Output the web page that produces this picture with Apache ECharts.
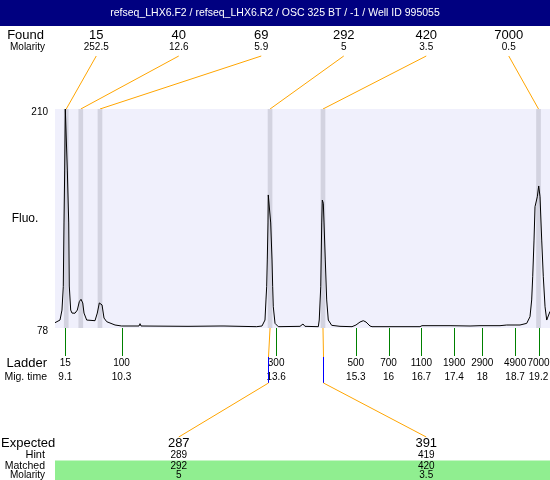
<!DOCTYPE html>
<html><head><meta charset="utf-8">
<script src="https://cdn.jsdelivr.net/npm/echarts@6/dist/echarts.min.js"></script>
<style>html,body{margin:0;padding:0;background:#fff}#c{width:550px;height:480px}</style>
</head><body><div id="c"></div>
<script>
const titleText = 'refseq_LHX6.F2 / refseq_LHX6.R2 / OSC 325 BT / -1 / Well ID 995055';
const foundSizes = ['15', '40', '69', '292', '420', '7000'];
const foundMolarity = ['252.5', '12.6', '5.9', '5', '3.5', '0.5'];
const foundTimes = [9.12, 9.43, 9.84, 13.47, 14.60, 19.20];
const ladderSizes = ['15', '100', '300', '500', '700', '1100', '1900', '2900', '4900', '7000'];
const ladderTimes = [9.1, 10.3, 13.6, 15.3, 16, 16.7, 17.4, 18, 18.7, 19.2];
const expectedSizes = ['287', '391'];
const hintSizes = ['289', '419'];
const matchedSizes = ['292', '420'];
const matchedMolarity = ['5', '3.5'];
const matchedFoundIndex = [3, 4];
const matchedMarkTimes = [13.42, 14.60];
const yLabels = [78, 210];
const traceTimes = [8.880, 8.987, 9.029, 9.057, 9.072, 9.087, 9.100, 9.130, 9.143, 9.173, 9.185, 9.215, 9.243, 9.307, 9.356, 9.399, 9.435, 9.472, 9.499, 9.556, 9.734, 9.783, 9.826, 9.856, 9.884, 9.926, 9.984, 10.161, 10.304, 10.673, 10.695, 10.716, 11.719, 12.402, 12.444, 12.487, 13.185, 13.298, 13.362, 13.383, 13.398, 13.411, 13.426, 13.432, 13.462, 13.484, 13.512, 13.526, 13.539, 13.576, 13.646, 14.109, 14.173, 14.215, 14.500, 14.520, 14.552, 14.573, 14.585, 14.607, 14.622, 14.649, 14.679, 14.713, 14.786, 14.963, 15.219, 15.304, 15.390, 15.460, 15.518, 15.603, 15.646, 16.670, 16.713, 17.311, 17.738, 17.951, 18.378, 18.521, 18.805, 18.948, 19.018, 19.054, 19.076, 19.104, 19.125, 19.174, 19.204, 19.232, 19.268, 19.302, 19.339, 19.375, 19.409, 19.445];
const traceFluo = [81.2, 82.8, 88.8, 102.9, 141.3, 173.2, 210, 210, 173.2, 141.3, 103.3, 88.8, 87.0, 86.9, 88.8, 93.9, 95.3, 93.1, 87.0, 82.8, 82.4, 87.0, 93.1, 93.9, 91.9, 84.0, 81.8, 79.8, 79.2, 79.2, 80.6, 79.2, 79.0, 79.2, 79.6, 79.2, 78.8, 79.2, 82.8, 94.9, 102.9, 119.0, 141.3, 158.2, 157.1, 141.3, 119.0, 102.9, 90.8, 80.8, 78.8, 79.0, 80.4, 79.0, 78.8, 82.8, 102.9, 141.3, 155.1, 153.2, 141.3, 119.0, 94.9, 82.8, 79.6, 79.0, 78.8, 79.8, 81.6, 82.4, 81.6, 79.2, 78.8, 78.8, 79.4, 79.4, 79.2, 79.4, 79.4, 79.8, 79.8, 80.8, 84.8, 94.9, 108.9, 131.0, 151.1, 157.1, 163.6, 157.1, 131.0, 108.9, 90.8, 82.8, 84.0, 88.0];

const FONT = '"Liberation Sans", Arial, sans-serif';
const X_MIN = 8.88, X_MAX = 19.445, Y_MIN = 78, Y_MAX = 210;
const chart = echarts.init(document.getElementById('c'), null, {renderer: 'canvas'});
chart.setOption({
  animation: false,
  grid: {left: 55, right: 0, top: 109, bottom: 152, show: true, backgroundColor: '#f0f0fc', borderWidth: 0},
  xAxis: {type: 'value', min: X_MIN, max: X_MAX, show: false},
  yAxis: {type: 'value', min: Y_MIN, max: Y_MAX, show: false},
  series: [{
    type: 'line',
    data: traceTimes.map((t, i) => [t, traceFluo[i]]),
    showSymbol: false, symbol: 'none', clip: true,
    lineStyle: {color: '#000', width: 1},
    markArea: {silent: true, itemStyle: {color: '#d3d3e0'},
      data: foundTimes.map(t => [{xAxis: t - 0.05}, {xAxis: t + 0.05}])}
  }]
});

const px = t => chart.convertToPixel({gridIndex: 0}, [t, Y_MIN])[0];
const py = v => chart.convertToPixel({gridIndex: 0}, [X_MIN, v])[1];
const plotL = px(X_MIN), plotR = px(X_MAX), plotT = py(Y_MAX), plotB = py(Y_MIN);
const slot = (i, n) => plotL + (plotR - plotL) * (i + 0.5) / n;
const crisp = v => Math.round(v) + 0.5;

function txt(x, y, s, size, align, color) {
  return {type: 'text', x: x, y: y, silent: true,
    style: {text: s, fill: color || '#000', fontSize: size, fontFamily: FONT,
      align: align || 'center', verticalAlign: 'middle', textAlign: align || 'center', textVerticalAlign: 'middle'}};
}
function seg(pts, color) {
  return {type: 'polyline', silent: true, shape: {points: pts}, style: {stroke: color, lineWidth: 1, fill: null}};
}

const g = [];
// title bar
g.push({type: 'rect', silent: true, shape: {x: 0, y: 0, width: 550, height: 26}, style: {fill: '#000080'}});
g.push(txt(275, 13, titleText, 10.5, 'center', '#fff'));
// found row
g.push(txt(44, 35, 'Found', 13, 'right'));
g.push(txt(45, 47, 'Molarity', 10, 'right'));
foundSizes.forEach((s, i) => {
  const sx = slot(i, foundSizes.length);
  g.push(txt(sx, 35, s, 13));
  g.push(txt(sx, 47, foundMolarity[i], 10));
  g.push(seg([[sx, 56], [px(foundTimes[i]), plotT]], '#ffa500'));
});
// y labels
yLabels.forEach(v => g.push(txt(48, py(v) + 3, String(v), 10, 'right')));
g.push(txt(25, 219, 'Fluo.', 12));
// ladder
g.push(txt(47, 363, 'Ladder', 13, 'right'));
g.push(txt(47, 377, 'Mig. time', 10.5, 'right'));
ladderTimes.forEach((t, i) => {
  const x = crisp(px(t));
  g.push(seg([[x, plotB], [x, plotB + 28]], '#008000'));
  g.push(txt(px(t), 363, ladderSizes[i], 10));
  g.push(txt(px(t), 377, String(t), 10));
});
// matched band
g.push({type: 'rect', silent: true, shape: {x: plotL, y: 460.5, width: plotR - plotL, height: 20}, style: {fill: '#90ee90'}});
g.push(txt(1, 443.5, 'Expected', 13, 'left'));
g.push(txt(45, 455, 'Hint', 11, 'right'));
g.push(txt(45, 466, 'Matched', 10.5, 'right'));
g.push(txt(45, 475.5, 'Molarity', 10, 'right'));
expectedSizes.forEach((s, i) => {
  const ex = slot(i, expectedSizes.length);
  g.push(txt(ex, 443.5, s, 13));
  g.push(txt(ex, 455, hintSizes[i], 10));
  g.push(txt(ex, 466, matchedSizes[i], 10));
  g.push(txt(ex, 475.5, matchedMolarity[i], 10));
  const fx = px(foundTimes[matchedFoundIndex[i]]);
  const mx = crisp(px(matchedMarkTimes[i]));
  g.push(seg([[fx, plotB], [mx, 357]], '#ffa500'));
  g.push(seg([[mx, 357], [mx, 383]], '#0000ff'));
  g.push(seg([[mx, 383], [ex, 437]], '#ffa500'));
});
chart.setOption({graphic: g});
</script>
</body></html>
